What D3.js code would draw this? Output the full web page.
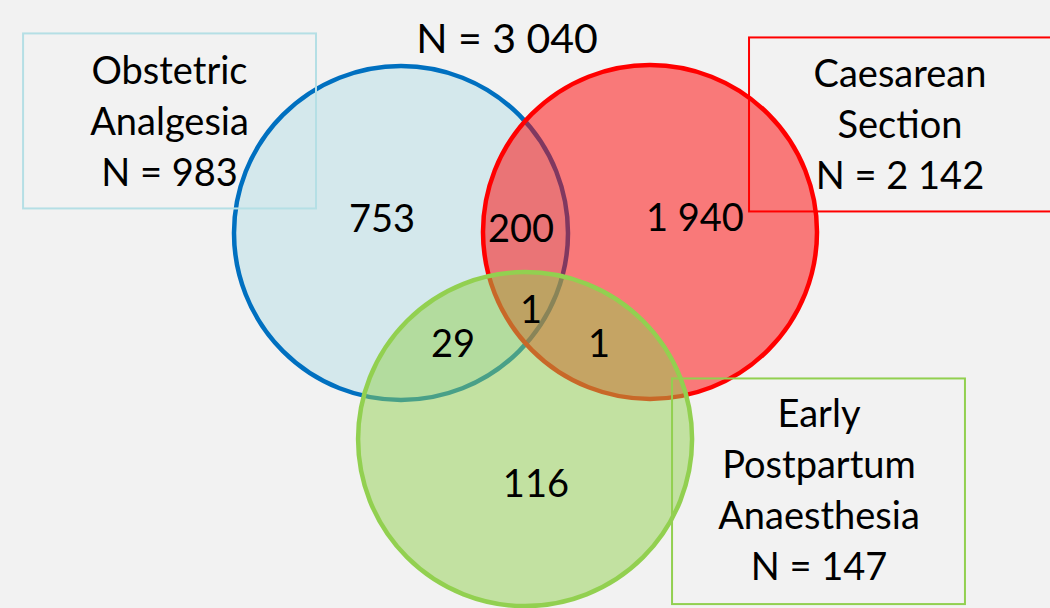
<!DOCTYPE html>
<html>
<head>
<meta charset="utf-8">
<script src="https://cdn.jsdelivr.net/npm/d3@7"></script>
<style>
  html, body { margin: 0; padding: 0; background: #f2f2f2; }
  svg { display: block; }
  text { font-family: Lato, "Open Sans", sans-serif; fill: #000; }
</style>
</head>
<body>
<svg id="chart" width="1050" height="608"></svg>
<script>
// Sets and their totals
const setNames = ["Obstetric Analgesia", "Caesarean Section", "Early Postpartum Anaesthesia"];
const setLabelLines = [["Obstetric", "Analgesia"], ["Caesarean", "Section"], ["Early", "Postpartum", "Anaesthesia"]];
const setTotals = [983, 2142, 147];
const grandTotal = 3040;

// Exclusive region counts (which sets each region belongs to)
const regionSets = [[0], [1], [2], [0, 1], [0, 2], [1, 2], [0, 1, 2]];
const regionCounts = [753, 1940, 116, 200, 29, 1, 1];

// Diagram geometry in circle-radius units (origin at first circle's centre)
const circleLayout = [[0, 0], [1.491, -0.006], [0.743, 1.234]];
const regionLabelLayout = [[-0.114, -0.006], [1.76, -0.012], [0.808, 1.581], [0.719, 0.054], [0.311, 0.743], [1.186, 0.743], [0.778, 0.539]];
const boxLayout = [[-2.263, -1.195, -0.509, -0.147], [2.084, -1.171, 3.916, -0.129], [1.623, 0.871, 3.377, 2.222]];
const boxTextLayout = [[-1.386, -0.892], [2.988, -0.876], [2.503, 1.16]];

const fillColors = ["#d4e8ec", "#ff0000", "#92d050"];
const fillOpacity = [1, 0.5, 0.5];
const strokeColors = ["#0070c0", "#ff0000", "#92d050"];
const boxColors = ["#b5dfe5", "#ff0000", "#92d050"];

const fmt = v => d3.format(",")(v).replace(/,/g, " ");

const svg = d3.select("#chart");
const R = 167;
const x = d3.scaleLinear().domain([0, 1]).range([401, 401 + R]);
const y = d3.scaleLinear().domain([0, 1]).range([233, 233 + R]);

// Circles: later ones are semi-transparent, so earlier outlines show through
svg.append("g").selectAll("circle")
  .data(setNames)
  .join("circle")
  .attr("cx", (d, i) => x(circleLayout[i][0]))
  .attr("cy", (d, i) => y(circleLayout[i][1]))
  .attr("r", x(1) - x(0))
  .attr("fill", (d, i) => fillColors[i])
  .attr("fill-opacity", (d, i) => fillOpacity[i])
  .attr("stroke", (d, i) => strokeColors[i])
  .attr("stroke-width", 4.5);

// Region counts
svg.append("g").selectAll("text")
  .data(regionCounts)
  .join("text")
  .attr("x", (d, i) => x(regionLabelLayout[i][0]))
  .attr("y", (d, i) => y(regionLabelLayout[i][1]))
  .attr("text-anchor", "middle")
  .attr("font-size", 38)
  .text(d => fmt(d));

// Set label boxes
const boxes = svg.append("g").selectAll("g")
  .data(setNames)
  .join("g");

boxes.append("rect")
  .attr("x", (d, i) => x(boxLayout[i][0]))
  .attr("y", (d, i) => y(boxLayout[i][1]))
  .attr("width", (d, i) => x(boxLayout[i][2]) - x(boxLayout[i][0]))
  .attr("height", (d, i) => y(boxLayout[i][3]) - y(boxLayout[i][1]))
  .attr("fill", "none")
  .attr("stroke", (d, i) => boxColors[i])
  .attr("stroke-width", 2);

boxes.append("text")
  .attr("text-anchor", "middle")
  .attr("font-size", 38)
  .each(function (d, i) {
    const t = d3.select(this);
    const lines = setLabelLines[i].concat(["N = " + fmt(setTotals[i])]);
    lines.forEach((line, k) => {
      t.append("tspan")
        .attr("x", x(boxTextLayout[i][0]))
        .attr("y", y(boxTextLayout[i][1]) + k * 51)
        .text(line);
    });
  });

// Overall total
svg.append("text")
  .attr("x", x(0.635))
  .attr("y", y(-1.08))
  .attr("text-anchor", "middle")
  .attr("font-size", 41)
  .text("N = " + fmt(grandTotal));
</script>
</body>
</html>
